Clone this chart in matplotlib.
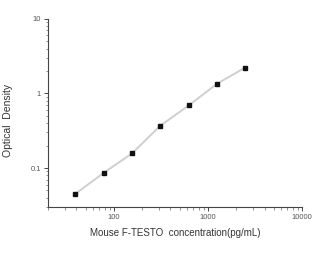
import matplotlib
matplotlib.use('Agg')
import matplotlib.pyplot as plt
import numpy as np

# standard curve data
conc = [39, 78, 156, 312.5, 625, 1250, 2500]
od = [0.045, 0.086, 0.157, 0.37, 0.69, 1.35, 2.23]

plt.rcParams['font.family'] = ['Liberation Sans', 'DejaVu Sans']

fig = plt.figure(figsize=(3.34, 2.63), dpi=100)
ax = fig.add_axes([0.144, 0.213, 0.76, 0.715])

ax.plot(conc, od, '-', color='#cfcfcf', lw=1.4, zorder=1)
ax.plot(conc, od, 's', color='#111111', ms=2.8, zorder=2)

ax.set_xscale('log')
ax.set_yscale('log')
ax.set_xlim(20, 10000)
ax.set_ylim(0.03, 10)
ax.set_xticks([100, 1000, 10000])
ax.set_xticklabels(['100', '1000', '10000'])
ax.set_yticks([0.1, 1, 10])
ax.set_yticklabels(['0.1', '1', '10'])

for s in ['top', 'right']:
    ax.spines[s].set_visible(False)
for s in ['left', 'bottom']:
    ax.spines[s].set_color('#444444')
    ax.spines[s].set_linewidth(0.8)

ax.tick_params(which='major', length=3, width=0.7, colors='#444444', labelsize=5.5, labelcolor='#555555', pad=2)
ax.tick_params(which='minor', length=1.8, width=0.5, colors='#666666')

ax.set_xlabel('Mouse F-TESTO  concentration(pg/mL)', fontsize=7, color='#333333', labelpad=5)
ax.set_ylabel('Optical  Density', fontsize=7.5, color='#333333')
ax.yaxis.set_label_coords(-0.14, 0.46)

fig.savefig('out.png', dpi=100)
